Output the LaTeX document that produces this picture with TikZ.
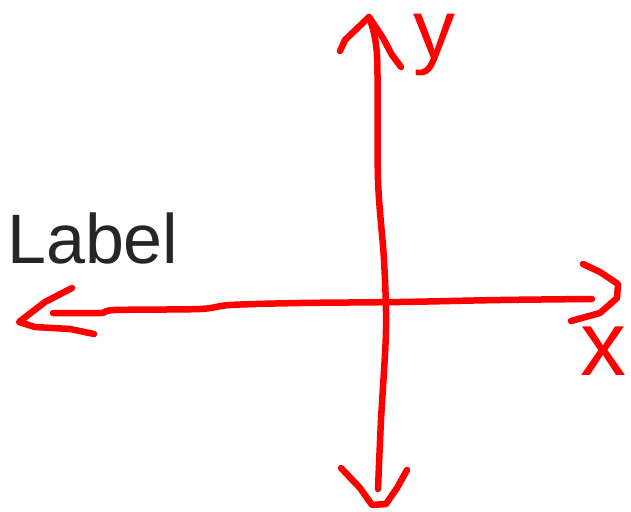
\documentclass[tikz,border=0pt]{standalone}
\usepackage{fontspec}
\setmainfont{Liberation Sans}
\begin{document}
\begin{tikzpicture}[x=1pt,y=-1pt,
  pen/.style={draw=red,line width=6.5pt,line cap=round,line join=round},
  redtext/.style={text=red,inner sep=0pt,font=\fontsize{92}{100}\selectfont},
  ytext/.style={text=red,inner sep=0pt,font=\fontsize{84}{90}\selectfont},
  labeltext/.style={text=black!85,inner sep=0pt,font=\fontsize{70}{84}\selectfont}]
\useasboundingbox (0,0) rectangle (631,511);
% key points
\coordinate (ytop) at (369,17);
\coordinate (ybot) at (378,489);
\coordinate (xleft) at (53,313);
\coordinate (xright) at (592,299);
% vertical axis
\draw[pen] plot[smooth] coordinates {(ytop) (377,55) (378,180) (384,260) (386,330) (381,420) (ybot)};
\draw[pen] (340,51) -- (345,40) -- (ytop) -- (383,38) -- (392,55) -- (401,67);
\draw[pen] (341,468) -- (360,488) -- (372,505) -- (386,504) -- (397,488) -- (407,470);
% horizontal axis
\draw[pen] plot[smooth] coordinates {(xleft) (100,313) (115,310) (200,309) (230,305) (300,303) (400,302) (500,300) (xright)};
\draw[pen] (72,288) -- (45,302) -- (19,322) -- (35,327) -- (70,329) -- (94,334);
\draw[pen] (583,264) -- (600,272) -- (618,284) -- (617,298) -- (600,313) -- (571,321);
% labels
\node[labeltext,anchor=base west] (lab) at (7,263) {Label};
\node[ytext,anchor=base] (ylab) at (434,59) {y};
\node[redtext,anchor=base] (xlab) at (603,375) {x};
\end{tikzpicture}
\end{document}
